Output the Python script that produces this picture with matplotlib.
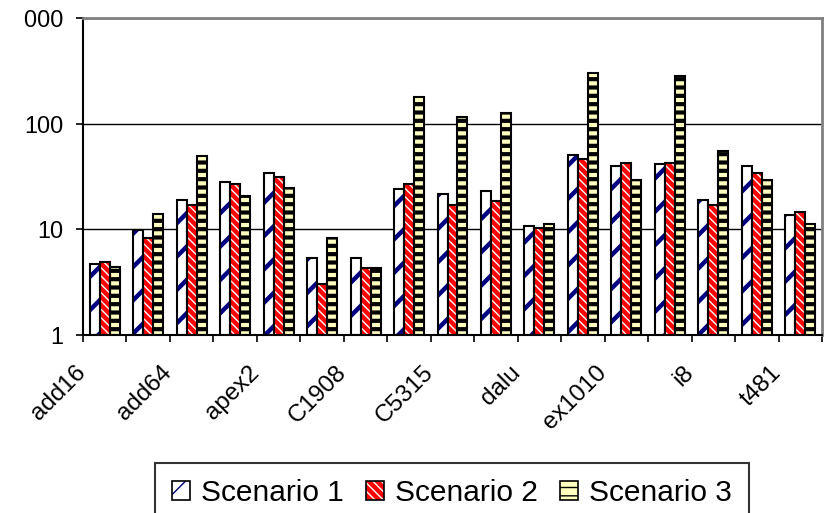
import numpy as np
import matplotlib.pyplot as plt
from matplotlib.patches import Patch
from matplotlib.ticker import FixedLocator, NullLocator, NullFormatter
from matplotlib.transforms import Bbox, TransformedBbox, ScaledTranslation

plt.rcParams['font.family'] = ['Liberation Sans', 'DejaVu Sans']

# runtime per circuit, three scenarios (log scale); names shown on every second group
labels = ['add16', 'add64', 'apex2', 'C1908', 'C5315', 'dalu', 'ex1010', 'i8', 't481']
scenario1 = [4.7, 9.9, 18.8, 27.9, 34.5, 5.4, 5.4, 24.3, 21.5, 23.3, 10.8, 50.8, 39.4, 41.1, 18.8, 39.4, 13.8]
scenario2 = [4.9, 8.3, 17.1, 26.7, 31.6, 3.05, 4.3, 26.7, 17.0, 18.7, 10.2, 46.2, 42.6, 42.6, 17.0, 34.3, 14.5]
scenario3 = [4.4, 14.0, 49.0, 20.6, 24.5, 8.3, 4.3, 178, 116, 125, 11.2, 300, 29.0, 285, 55.4, 29.0, 11.2]
names = ['Scenario 1', 'Scenario 2', 'Scenario 3']

W, H, DPI = 827, 513, 100
fig = plt.figure(figsize=(W / DPI, H / DPI), dpi=DPI)
ax = fig.add_axes([83 / W, (H - 335) / H, (822 - 83) / W, (335 - 18) / H])


def hatch_width(artist, lw):
    # keep a per-artist hatch line width whichever way the backend reads it
    if hasattr(artist, 'set_hatch_linewidth'):
        artist.set_hatch_linewidth(lw)
    orig = artist.draw

    def draw(renderer):
        with plt.rc_context({'hatch.linewidth': lw}):
            orig(renderer)
    artist.draw = draw


x = np.arange(len(scenario1))
w = 0.23
# face colour, hatch, hatch colour, hatch width
styles = [('white', '/', '#000080', 3.2),
          ('#ff0000', '\\\\\\\\', 'white', 1.0),
          ('#ffffc0', '--', 'black', 3.0)]

handles = []
for i, (vals, (fc, hatch, hc, hlw)) in enumerate(zip([scenario1, scenario2, scenario3], styles)):
    pos = x + (i - 1) * w
    heights = np.array(vals) - 1
    with plt.rc_context({'hatch.linewidth': hlw}):
        fill = ax.bar(pos, heights, w, bottom=1, color=fc, edgecolor=hc, hatch=hatch,
                      linewidth=0, zorder=2)
        hp = Patch(facecolor=fc, edgecolor=hc, hatch=hatch, linewidth=0)
    for p in fill:
        hatch_width(p, hlw)
    hatch_width(hp, hlw)
    ax.bar(pos, heights, w, bottom=1, fill=False, edgecolor='black', linewidth=1.5, zorder=3)
    ep = Patch(fill=False, edgecolor='black', linewidth=1.2)
    handles.append((hp, ep))

ax.set_yscale('log')
ax.set_ylim(1, 1000)
ax.set_xlim(-0.5, len(x) - 0.5)

ax.yaxis.set_major_locator(FixedLocator([1, 10, 100, 1000]))
ax.yaxis.set_minor_locator(NullLocator())
ax.yaxis.set_minor_formatter(NullFormatter())
ax.set_yticklabels(['1', '10', '100', '1000'])
ax.yaxis.grid(True, color='black', linewidth=1.0, zorder=1)
ax.set_axisbelow(True)

# ticks between categories, labels on every second category
ax.xaxis.set_major_locator(FixedLocator(np.arange(-0.5, len(x), 1.0)))
ax.xaxis.set_major_formatter(NullFormatter())
ax.xaxis.set_minor_locator(FixedLocator(x[::2]))
ax.set_xticklabels(labels, minor=True, rotation=45, ha='right', va='top')
ax.tick_params(axis='x', which='minor', length=0, pad=19, labelsize=17.5)
ax.tick_params(axis='both', which='major', direction='out', length=5, width=1.2,
               color='black')
ax.tick_params(axis='y', which='major', labelsize=16.8, pad=9)

shift = ScaledTranslation(-15 / DPI, 0, fig.dpi_scale_trans)
for lab in ax.get_xticklabels(minor=True):
    lab.set_transform(lab.get_transform() + shift)

clip = TransformedBbox(Bbox([[24 / W, 0], [1, 1]]), fig.transFigure)
for lab in ax.get_yticklabels():
    lab.set_clip_on(True)
    lab.set_clip_box(clip)

for side in ['left', 'bottom']:
    ax.spines[side].set_color('black')
    ax.spines[side].set_linewidth(1.5)
for side in ['top', 'right']:
    ax.spines[side].set_color('#808080')
    ax.spines[side].set_linewidth(2.0)

leg = fig.legend(handles, names, loc='upper center',
                 bbox_to_anchor=(452 / W, 1 - 463 / H), ncol=3, fontsize=21.5,
                 frameon=True, fancybox=False, shadow=False,
                 handlelength=0.6, handleheight=0.6, handletextpad=0.37,
                 columnspacing=0.75, borderpad=0.55, borderaxespad=0)
leg.get_frame().set_edgecolor('black')
leg.get_frame().set_linewidth(1.5)
hatch_width(leg, 2.4)

fig.savefig('out.png', dpi=DPI)
